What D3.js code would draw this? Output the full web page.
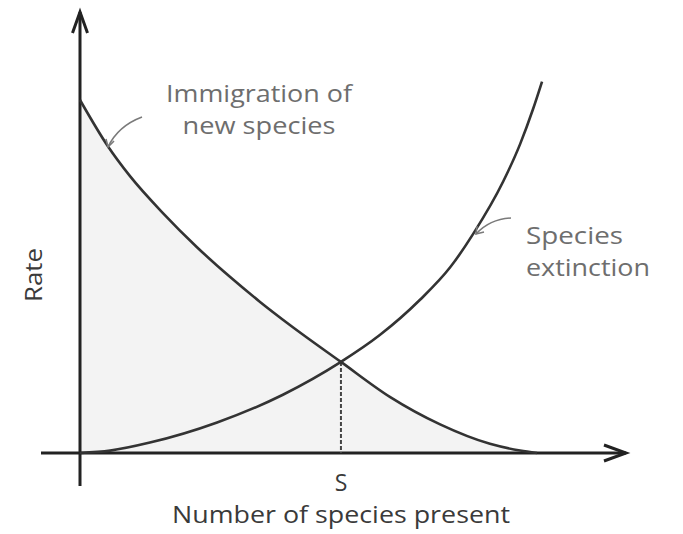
<!DOCTYPE html>
<html>
<head>
<meta charset="utf-8">
<script src="https://cdn.jsdelivr.net/npm/d3@7"></script>
<style>
  html, body { margin: 0; padding: 0; background: #fff; }
  svg { display: block; }
</style>
</head>
<body>
<div id="chart"></div>
<script>
// ---- data ----
const speciesImmigration = [0, 6.1, 10.9, 18.2, 25.6, 32.8, 39.4, 46.0, 57.1, 67.8, 78.8, 89.7, 96.3, 100];
const immigrationRate    = [100, 86.9, 78.5, 67.9, 58.3, 49.9, 42.8, 36.2, 25.8, 15.9, 8.1, 2.6, 0.7, 0];
const speciesExtinction  = [0, 6.6, 15.3, 30.0, 44.4, 57.1, 65.6, 74.4, 81.0, 86.0, 92.6, 96.3, 99.1, 101.1];
const extinctionRate     = [0, 0.68, 2.95, 8.64, 16.5, 25.8, 33.4, 43.4, 52.6, 62.0, 76.9, 87.5, 97.3, 105.2];
const equilibriumS = 57.1;
const equilibriumRate = 25.8;
const xAxisTitle = "Number of species present";
const yAxisTitle = "Rate";
const sLabel = "S";
const immigrationLabel = ["Immigration of", "new species"];
const extinctionLabel = ["Species", "extinction"];

// ---- layout ----
const W = 683, H = 534;
const x = d3.scaleLinear().domain([0, 100]).range([80, 537]);
const y = d3.scaleLinear().domain([0, 100]).range([453, 100]);

const svg = d3.select("#chart").append("svg").attr("width", W).attr("height", H);

const imm = speciesImmigration.map((s, i) => [s, immigrationRate[i]]);
const ext = speciesExtinction.map((s, i) => [s, extinctionRate[i]]);

// shaded area under immigration curve
svg.append("path")
  .datum(imm)
  .attr("fill", "#f3f3f3")
  .attr("d", d3.area().x(d => x(d[0])).y0(y(0)).y1(d => y(d[1])).curve(d3.curveMonotoneX));

// axes
const axisColor = "#222";
svg.append("line").attr("x1", x(0)).attr("x2", x(0)).attr("y1", y(0) + 33).attr("y2", 12)
  .attr("stroke", axisColor).attr("stroke-width", 3);
svg.append("path").attr("d", `M${x(0) - 7.5},33 L${x(0)},12 L${x(0) + 7.5},33`)
  .attr("fill", "none").attr("stroke", axisColor).attr("stroke-width", 3);
svg.append("line").attr("x1", 41).attr("x2", 626).attr("y1", y(0)).attr("y2", y(0))
  .attr("stroke", axisColor).attr("stroke-width", 3);
svg.append("path").attr("d", `M604,${y(0) - 8} L626,${y(0)} L604,${y(0) + 8}`)
  .attr("fill", "none").attr("stroke", axisColor).attr("stroke-width", 3);

// dashed equilibrium line
svg.append("line")
  .attr("x1", x(equilibriumS)).attr("x2", x(equilibriumS))
  .attr("y1", y(equilibriumRate)).attr("y2", y(0))
  .attr("stroke", "#444").attr("stroke-width", 2).attr("stroke-dasharray", "4,2");

// curves
const line = d3.line().x(d => x(d[0])).y(d => y(d[1])).curve(d3.curveMonotoneX);
svg.append("path").datum(imm).attr("fill", "none").attr("stroke", "#333").attr("stroke-width", 2.6).attr("d", line);
svg.append("path").datum(ext).attr("fill", "none").attr("stroke", "#333").attr("stroke-width", 2.6).attr("d", line);

// leader arrows
const leaderColor = "#7a7a7a";
svg.append("path").attr("d", "M142,117 Q118,126 108,147")
  .attr("fill", "none").attr("stroke", leaderColor).attr("stroke-width", 1.6);
svg.append("path").attr("d", "M106,139 L108,147 L114,141")
  .attr("fill", "none").attr("stroke", leaderColor).attr("stroke-width", 1.6);
svg.append("path").attr("d", "M511,218 Q490,219 476,234")
  .attr("fill", "none").attr("stroke", leaderColor).attr("stroke-width", 1.6);
svg.append("path").attr("d", "M477,226 L476,234 L484,232")
  .attr("fill", "none").attr("stroke", leaderColor).attr("stroke-width", 1.6);

// text
const font = "'Open Sans', 'DejaVu Sans', sans-serif";
const annColor = "#6e6e6e";
const darkText = "#3a3a3a";

function fitText(sel, width) {
  sel.attr("textLength", width).attr("lengthAdjust", "spacingAndGlyphs");
}

const immWidths = [186, 153];
svg.append("g").selectAll("text").data(immigrationLabel).join("text")
  .attr("x", 259).attr("y", (d, i) => 102 + i * 32)
  .attr("text-anchor", "middle").attr("font-family", font).attr("font-size", 23)
  .attr("fill", annColor).text(d => d)
  .attr("textLength", (d, i) => immWidths[i]).attr("lengthAdjust", "spacingAndGlyphs");

const extWidths = [97, 124];
svg.append("g").selectAll("text").data(extinctionLabel).join("text")
  .attr("x", 526).attr("y", (d, i) => 244 + i * 32)
  .attr("text-anchor", "start").attr("font-family", font).attr("font-size", 23)
  .attr("fill", annColor).text(d => d)
  .attr("textLength", (d, i) => extWidths[i]).attr("lengthAdjust", "spacingAndGlyphs");

svg.append("text").attr("x", x(equilibriumS)).attr("y", 491)
  .attr("text-anchor", "middle").attr("font-family", font).attr("font-size", 23)
  .attr("fill", darkText).text(sLabel);

svg.append("text").attr("x", 341).attr("y", 523)
  .attr("text-anchor", "middle").attr("font-family", font).attr("font-size", 23)
  .attr("fill", darkText).text(xAxisTitle)
  .call(fitText, 338);

svg.append("text").attr("transform", "translate(42,275) rotate(-90)")
  .attr("text-anchor", "middle").attr("font-family", font).attr("font-size", 23)
  .attr("fill", darkText).text(yAxisTitle)
  .call(fitText, 54);
</script>
</body>
</html>
